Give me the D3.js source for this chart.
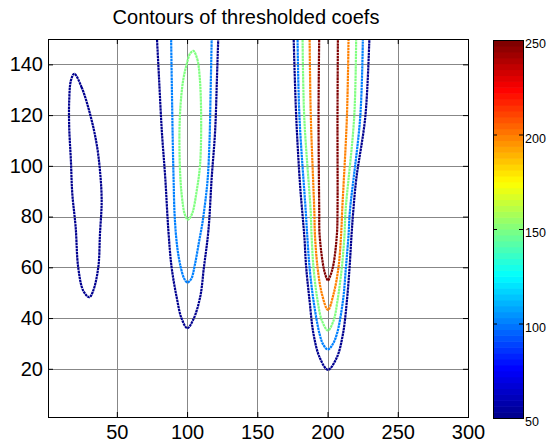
<!DOCTYPE html>
<html>
<head>
<meta charset="utf-8">
<script src="https://cdn.jsdelivr.net/npm/d3@7"></script>
<style>
  body { margin: 0; background: #fff; }
  svg { display: block; font-family: "Liberation Sans", Arial, Helvetica, sans-serif; }
</style>
</head>
<body>
<div id="chart"></div>
<script>
// contour levels and tick values
const levels = [50, 100, 150, 200, 250];
const xTicks = [50, 100, 150, 200, 250, 300];
const yTicks = [20, 40, 60, 80, 100, 120, 140];
const cbarTicks = [50, 100, 150, 200, 250];

// contour paths, [x, y] in data units
const leftLoop50 = [[19.7,136.3],[24.9,131],[30.9,120.5],[35.6,108.7],[38,98.1],[39.2,86.3],[38,73.2],[36.8,60],[33.2,50.8],[30.4,48.2],[26.1,50.8],[22.5,60],[20.7,75.8],[18.3,89],[17.3,102.1],[16.1,115.2],[16.1,125.7],[17.3,133.6]];
const mid50 = [[78.4,152],[80,135],[82,114],[84.5,95],[86.7,74.5],[89,60],[92.6,48.2],[96,40],[100.2,36],[104.5,39.5],[109.3,48.2],[112,60],[115.2,74.5],[117.5,95],[120,114],[121.3,135],[122.3,152]];
const mid100 = [[88.6,152],[89.2,130],[89.8,110],[90.4,95],[91.2,80],[93,68],[95.5,60],[98,55.5],[100.3,54],[103,55.5],[105.7,61.4],[108.5,70],[110.8,77],[113,86],[114.7,95],[116,110],[116.8,130],[117.6,152]];
const midLoop150 = [[104.5,145.3],[107.3,142],[109,135],[110,120.5],[109.3,100.8],[106.9,90.3],[103.5,81],[100.7,78.8],[98.5,80.7],[96.3,88],[95,98],[94.6,113.9],[95.5,125],[97.3,134],[99.8,140.2],[102.2,144.3]];
const right50 = [[175.8,152],[177.7,119.4],[180.5,92],[182.3,80],[183.5,72],[184.8,60],[187.2,46.9],[190,33.8],[194.3,24.6],[200.3,19.6],[206.7,24.6],[211,33.8],[213.8,46.9],[215.7,60],[217,72],[218.3,82],[220.5,95],[226.9,119.4],[229.9,152]];
const right100 = [[178.6,152],[180,119.4],[184.5,82],[185.5,73],[187.2,60],[190,46.9],[194.3,33.8],[197,29.5],[200.3,27.6],[203.5,29.5],[206.7,33.8],[211,46.9],[213.1,60],[215,73],[215.9,82],[223.3,119.4],[225.2,152]];
const right150 = [[182.2,152],[183.4,119.4],[188,82],[188.6,73],[190,60],[192.9,46.9],[196,39],[200.3,35.1],[204.3,39],[207.1,46.9],[210.2,60],[212.1,73],[212.8,82],[219,119.4],[220.4,152]];
const right200 = [[187.2,152],[188.1,119.4],[190.6,82],[191,73.2],[192.9,60],[196,49.5],[200.3,43.2],[204.3,49.5],[207.8,60],[209.7,73.2],[210.4,82],[213.8,119.4],[215,152]];
const right250 = [[194.1,152],[193.6,119.4],[194.1,82],[194.3,73.2],[196.7,61.4],[198.5,57],[200.3,54.8],[202.2,57],[204.3,61.4],[206.7,73.2],[207.1,82],[207.1,119.4],[207.4,152]];

const contourSet = [
  { level: 50, pts: leftLoop50, closed: true },
  { level: 50, pts: mid50 },
  { level: 100, pts: mid100 },
  { level: 150, pts: midLoop150, closed: true },
  { level: 50, pts: right50 },
  { level: 100, pts: right100 },
  { level: 150, pts: right150 },
  { level: 200, pts: right200 },
  { level: 250, pts: right250 }
];

const W = 547, H = 448;
const pLeft = 48, pRight = 468, pTop = 39, pBottom = 417;

const svg = d3.select("#chart").append("svg")
  .attr("width", W).attr("height", H);
svg.append("rect").attr("width", W).attr("height", H).attr("fill", "#fff");

const x = d3.scaleLinear().domain([1, 300]).range([pLeft, pRight]);
const y = d3.scaleLinear().domain([1, 150]).range([pBottom, pTop]);

// MATLAB jet colormap
const jet = d3.scaleLinear()
  .domain([0, 1 / 8, 3 / 8, 5 / 8, 7 / 8, 1])
  .range(["#00008f", "#0000ff", "#00ffff", "#ffff00", "#ff0000", "#800000"])
  .interpolate(d3.interpolateRgb);
const cFrac = d3.scaleLinear().domain([50, 250]).range([0, 1]);
const color = v => jet(cFrac(v));

// grid
const grid = svg.append("g").attr("stroke", "#878787").attr("stroke-width", 1);
grid.selectAll(".gx").data(xTicks).enter().append("line")
  .attr("x1", d => Math.round(x(d)) + 0.5).attr("x2", d => Math.round(x(d)) + 0.5)
  .attr("y1", pTop).attr("y2", pBottom);
grid.selectAll(".gy").data(yTicks).enter().append("line")
  .attr("y1", d => Math.round(y(d)) + 0.5).attr("y2", d => Math.round(y(d)) + 0.5)
  .attr("x1", pLeft).attr("x2", pRight);

// contours
svg.append("clipPath").attr("id", "plotclip")
  .append("rect").attr("x", pLeft).attr("y", pTop)
  .attr("width", pRight - pLeft).attr("height", pBottom - pTop);

const lineOpen = d3.line().x(d => x(d[0])).y(d => y(d[1])).curve(d3.curveCatmullRom);
const lineClosed = d3.line().x(d => x(d[0])).y(d => y(d[1])).curve(d3.curveCatmullRomClosed);

svg.append("g").attr("clip-path", "url(#plotclip)")
  .selectAll("path").data(contourSet).enter().append("path")
  .attr("d", d => d.closed ? lineClosed(d.pts) : lineOpen(d.pts))
  .attr("fill", "none")
  .attr("stroke", d => color(d.level))
  .attr("stroke-width", 2.2)
  .attr("stroke-dasharray", "2.5,0.6");

// axes (ticks inward, MATLAB style)
function style(g) {
  g.select(".domain").remove();
  g.selectAll(".tick line").attr("stroke", "#000");
  g.selectAll("text").attr("fill", "#000").attr("font-size", 20)
    .attr("font-family", "Liberation Sans, Arial, sans-serif");
}
svg.append("g").attr("transform", `translate(0,${pBottom})`)
  .call(d3.axisBottom(x).tickValues(xTicks).tickSize(-5).tickPadding(8)).call(style);
svg.append("g").attr("transform", `translate(0,${pTop})`)
  .call(d3.axisTop(x).tickValues(xTicks).tickSize(-5).tickFormat("")).call(style);
svg.append("g").attr("transform", `translate(${pLeft},0)`)
  .call(d3.axisLeft(y).tickValues(yTicks).tickSize(-5).tickPadding(5)).call(style);
svg.append("g").attr("transform", `translate(${pRight},0)`)
  .call(d3.axisRight(y).tickValues(yTicks).tickSize(-5).tickFormat("")).call(style);

svg.append("rect").attr("x", pLeft + 0.5).attr("y", pTop + 0.5)
  .attr("width", pRight - pLeft).attr("height", pBottom - pTop)
  .attr("fill", "none").attr("stroke", "#000");

// title
svg.append("text").attr("x", 246).attr("y", 24)
  .attr("text-anchor", "middle").attr("font-size", 20)
  .text("Contours of thresholded coefs");

// colorbar
const cbL = 493, cbR = 523, cbT = 40, cbB = 418;
const cb = d3.scaleLinear().domain([50, 250]).range([cbB, cbT]);
const nBands = 64;
const bands = d3.range(nBands);
svg.append("g").selectAll("rect").data(bands).enter().append("rect")
  .attr("x", cbL)
  .attr("y", i => cb(50 + (i + 1) * 200 / nBands))
  .attr("width", cbR - cbL)
  .attr("height", (cbB - cbT) / nBands + 0.6)
  .attr("fill", i => jet(i / (nBands - 1)));
svg.append("g").attr("transform", `translate(${cbR},0)`)
  .call(d3.axisRight(cb).tickValues(cbarTicks).tickSize(-4).tickPadding(2))
  .call(style)
  .selectAll("text").attr("font-size", 12.5).attr("dy", "0.6em");
svg.append("g").attr("transform", `translate(${cbL},0)`)
  .call(d3.axisLeft(cb).tickValues(cbarTicks).tickSize(-4).tickFormat(""))
  .call(style);
svg.append("rect").attr("x", cbL + 0.5).attr("y", cbT + 0.5)
  .attr("width", cbR - cbL).attr("height", cbB - cbT)
  .attr("fill", "none").attr("stroke", "#000");
</script>
</body>
</html>
